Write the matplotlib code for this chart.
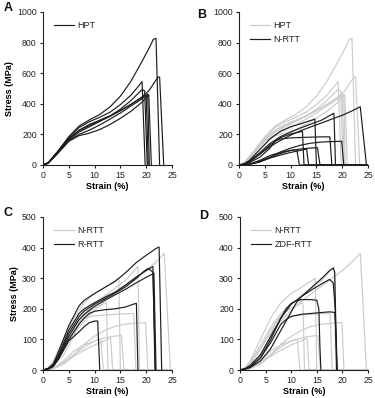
import matplotlib
matplotlib.use("Agg")
import matplotlib.pyplot as plt

plt.rcParams['font.family'] = ['Liberation Sans', 'DejaVu Sans']

BLACK = '#1c1c1c'
GRAY = '#cbcbcb'

# ---------------- HPT curves (strain %, stress MPa) ----------------
hpt1_x = [0, 1, 3, 5, 7, 9, 11, 13, 15, 17, 19, 20.5, 21.4, 21.9, 22.6]
hpt1_y = [0, 15, 95, 185, 255, 295, 330, 380, 450, 545, 665, 760, 822, 828, 0]
hpt2_x = [0, 1, 3, 5, 7, 9, 11, 13, 15, 17, 19, 20.5, 21.5, 22.3, 22.6, 23.4]
hpt2_y = [0, 15, 90, 170, 225, 258, 288, 318, 355, 395, 440, 485, 535, 575, 575, 0]
hpt3_x = [0, 1, 3, 5, 7, 9, 11, 13, 15, 17, 18.5, 19.2, 19.8]
hpt3_y = [0, 15, 95, 180, 245, 283, 312, 345, 395, 455, 515, 545, 0]
hpt4_x = [0, 1, 3, 5, 7, 9, 11, 13, 15, 17, 18.5, 19.2, 19.7, 20.2]
hpt4_y = [0, 12, 85, 165, 215, 250, 285, 320, 365, 420, 470, 493, 485, 0]
hpt5_x = [0, 1, 3, 5, 7, 9, 11, 13, 15, 17, 19, 20.3, 20.6]
hpt5_y = [0, 12, 85, 160, 200, 228, 262, 300, 340, 385, 428, 465, 0]
hpt6_x = [0, 1, 3, 5, 7, 9, 11, 13, 15, 17, 19, 20.5, 21.0]
hpt6_y = [0, 10, 80, 155, 192, 208, 232, 265, 305, 350, 405, 458, 0]
hpt7_x = [0, 1, 3, 5, 7, 9, 11, 13, 15, 17, 19, 20.0, 20.4]
hpt7_y = [0, 12, 90, 172, 228, 265, 293, 322, 356, 396, 438, 455, 0]

# ---------------- N-RTT curves ----------------
nrtt1_x = [0, 1, 2, 4, 6, 8, 10, 12, 14, 16, 18, 20, 22, 23.5, 24.7, 25]
nrtt1_y = [0, 5, 20, 70, 120, 160, 195, 225, 250, 275, 300, 325, 355, 381, 0, 0]
nrtt2_x = [0, 1, 2, 4, 6, 8, 10, 12, 14, 16, 17.5, 18.4, 18.7, 25]
nrtt2_y = [0, 5, 25, 80, 140, 185, 215, 243, 268, 293, 322, 338, 0, 0]
nrtt3_x = [0, 1, 2, 4, 6, 8, 10, 12, 14, 14.7, 15.0, 25]
nrtt3_y = [0, 8, 30, 100, 170, 220, 250, 270, 292, 300, 0, 0]
nrtt4_x = [0, 1, 2, 4, 6, 8, 10, 11.5, 12.3, 12.6, 25]
nrtt4_y = [0, 5, 20, 70, 130, 178, 203, 214, 220, 0, 0]
nrtt5_x = [0, 1, 2, 4, 6, 7, 8, 10, 12, 14, 16, 17.6, 18.0, 25]
nrtt5_y = [0, 5, 15, 50, 110, 158, 170, 177, 180, 182, 184, 184, 0, 0]
nrtt6_x = [0, 2, 4, 6, 8, 10, 12, 14, 16, 18, 19.9, 20.3, 25]
nrtt6_y = [0, 5, 20, 50, 85, 110, 130, 143, 150, 153, 155, 0, 0]
nrtt7_x = [0, 2, 4, 6, 8, 10, 12, 14, 15.2, 15.7, 25]
nrtt7_y = [0, 5, 25, 50, 75, 95, 105, 111, 113, 0, 0]
nrtt8_x = [0, 2, 4, 6, 8, 10, 11.2, 11.7, 25]
nrtt8_y = [0, 5, 30, 62, 82, 95, 100, 0, 0]
nrtt9_x = [0, 2, 4, 6, 8, 10, 12, 13.1, 13.5, 25]
nrtt9_y = [0, 4, 20, 45, 65, 82, 96, 104, 0, 0]

# ---------------- R-RTT curves ----------------
rrtt1_x = [0, 1, 2, 3, 5, 7, 8, 10, 12, 14, 16, 18, 20, 22, 22.5, 23.0]
rrtt1_y = [0, 5, 20, 60, 145, 210, 228, 250, 270, 290, 318, 350, 375, 398, 402, 0]
rrtt2_x = [0, 1, 2, 3, 5, 7, 8, 10, 12, 14, 16, 18, 20, 21.3, 21.7]
rrtt2_y = [0, 4, 18, 50, 130, 185, 200, 220, 238, 255, 278, 303, 325, 338, 0]
rrtt3_x = [0, 1, 2, 3, 5, 7, 8, 10, 12, 14, 16, 18, 19.5, 20.4, 21.3, 21.8]
rrtt3_y = [0, 4, 15, 45, 120, 175, 193, 215, 233, 252, 272, 298, 322, 332, 320, 0]
rrtt4_x = [0, 1, 2, 3, 5, 7, 8, 10, 12, 14, 16, 18, 20, 21.5, 21.9]
rrtt4_y = [0, 3, 12, 40, 110, 165, 182, 208, 228, 246, 264, 284, 303, 316, 0]
rrtt5_x = [0, 1, 2, 3, 5, 7, 8, 9, 10, 12, 14, 16, 17.5, 18.1, 18.4]
rrtt5_y = [0, 3, 12, 38, 100, 150, 170, 185, 192, 197, 200, 206, 215, 218, 0]
rrtt6_x = [0, 1, 2, 3, 5, 7, 8, 9, 10, 10.6, 11.0]
rrtt6_y = [0, 3, 12, 35, 95, 125, 142, 155, 160, 160, 0]

# ---------------- ZDF-RTT curves ----------------
zdf1_x = [0, 1, 2, 4, 6, 8, 10, 11, 12, 14, 16, 17.5, 18.2, 18.5, 18.9]
zdf1_y = [0, 3, 8, 30, 70, 130, 190, 220, 240, 270, 300, 325, 333, 320, 0]
zdf2_x = [0, 1, 2, 4, 6, 8, 10, 12, 14, 16, 17.5, 18.2, 18.6, 18.9]
zdf2_y = [0, 3, 10, 40, 100, 170, 215, 240, 262, 282, 296, 285, 200, 0]
zdf3_x = [0, 1, 2, 4, 6, 8, 9, 10, 11, 12, 14, 15, 15.4, 15.6, 15.8]
zdf3_y = [0, 5, 15, 50, 110, 170, 200, 218, 226, 230, 230, 228, 200, 80, 0]
zdf4_x = [0, 1, 2, 4, 6, 7, 8, 9, 10, 12, 14, 16, 17.5, 18.5, 18.8, 19.0]
zdf4_y = [0, 3, 10, 40, 90, 120, 150, 165, 175, 182, 185, 188, 190, 188, 100, 0]

hpt = [(hpt1_x, hpt1_y), (hpt2_x, hpt2_y), (hpt3_x, hpt3_y), (hpt4_x, hpt4_y),
       (hpt5_x, hpt5_y), (hpt6_x, hpt6_y), (hpt7_x, hpt7_y)]
nrtt = [(nrtt1_x, nrtt1_y), (nrtt2_x, nrtt2_y), (nrtt3_x, nrtt3_y), (nrtt4_x, nrtt4_y),
        (nrtt5_x, nrtt5_y), (nrtt6_x, nrtt6_y), (nrtt7_x, nrtt7_y), (nrtt8_x, nrtt8_y),
        (nrtt9_x, nrtt9_y)]
rrtt = [(rrtt1_x, rrtt1_y), (rrtt2_x, rrtt2_y), (rrtt3_x, rrtt3_y), (rrtt4_x, rrtt4_y),
        (rrtt5_x, rrtt5_y), (rrtt6_x, rrtt6_y)]
zdf = [(zdf1_x, zdf1_y), (zdf2_x, zdf2_y), (zdf3_x, zdf3_y), (zdf4_x, zdf4_y)]

x_ticks = [0, 5, 10, 15, 20, 25]
y_ticks_top = [0, 200, 400, 600, 800, 1000]
y_ticks_bottom = [0, 100, 200, 300, 400, 500]

fig = plt.figure(figsize=(3.75, 3.98), dpi=100)
W, H = 375, 398

def make_ax(x0, x1, ytop, ybot):
    return fig.add_axes([x0 / W, 1 - ybot / H, (x1 - x0) / W, (ybot - ytop) / H])

axA = make_ax(43, 172, 12, 165)
axB = make_ax(239, 368, 12, 165)
axC = make_ax(43, 172, 217, 370)
axD = make_ax(240, 368, 217, 370)

LW = 0.85

def draw(ax, groups, ymax, yticks, ylabel):
    for curves, color, lab in groups:
        first = True
        for xs, ys in curves:
            ax.plot(xs, ys, color=color, lw=LW, label=lab if first else None,
                    solid_joinstyle='round')
            first = False
    ax.set_xlim(0, 25)
    ax.set_ylim(0, ymax)
    ax.set_xticks(x_ticks)
    ax.set_yticks(yticks)
    for s in ['top', 'right']:
        ax.spines[s].set_visible(False)
    for s in ['left', 'bottom']:
        ax.spines[s].set_linewidth(0.8)
        ax.spines[s].set_color('#222222')
    ax.tick_params(labelsize=6.3, length=2.5, width=0.8, pad=2, colors='#222222')
    ax.set_xlabel('Strain (%)', fontsize=6.5, fontweight='bold', labelpad=1.5)
    if ylabel:
        ax.set_ylabel('Stress (MPa)', fontsize=6.5, fontweight='bold', labelpad=2)
    leg = ax.legend(loc='upper left', bbox_to_anchor=(0.035, 0.98), frameon=False,
                    fontsize=6.5, handlelength=2.2, handletextpad=0.4,
                    labelspacing=0.55, borderaxespad=0.3)
    for t in leg.get_texts():
        t.set_color('#222222')

draw(axA, [(hpt, BLACK, 'HPT')], 1000, y_ticks_top, True)
draw(axB, [(hpt, GRAY, 'HPT'), (nrtt, BLACK, 'N-RTT')], 1000, y_ticks_top, False)
draw(axC, [(nrtt, GRAY, 'N-RTT'), (rrtt, BLACK, 'R-RTT')], 500, y_ticks_bottom, True)
draw(axD, [(nrtt, GRAY, 'N-RTT'), (zdf, BLACK, 'ZDF-RTT')], 500, y_ticks_bottom, False)

for letter, (px, py) in zip('ABCD', [(4, 11), (197, 18), (4, 216), (199, 219)]):
    fig.text(px / W, 1 - py / H, letter, fontsize=9, fontweight='bold',
             ha='left', va='baseline', color='#111111')

fig.savefig('out.png', dpi=100)
